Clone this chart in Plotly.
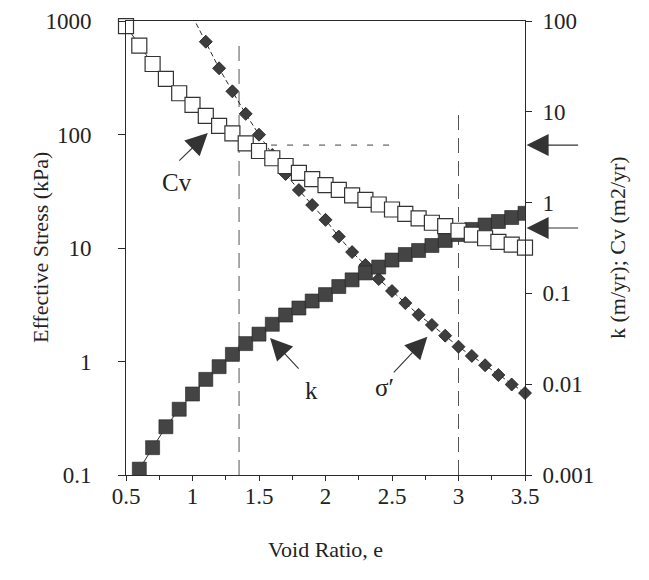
import math
import plotly.graph_objects as go

# ---------------- data ----------------
e_cv = [0.5, 0.6, 0.7, 0.8, 0.9, 1.0, 1.1, 1.2, 1.3, 1.4, 1.5, 1.6, 1.7, 1.8, 1.9,
        2.0, 2.1, 2.2, 2.3, 2.4, 2.5, 2.6, 2.7, 2.8, 2.9, 3.0, 3.1, 3.2, 3.3, 3.4, 3.5]
cv = [88, 53.5, 33.6, 23, 16, 11.9, 9.0, 7.0, 5.8, 4.5, 3.7, 3.08, 2.53, 2.13, 1.81,
      1.56, 1.38, 1.20, 1.07, 0.953, 0.84, 0.75, 0.67, 0.60, 0.55, 0.49, 0.445, 0.405,
      0.37, 0.345, 0.32]

e_k = [0.6, 0.7, 0.8, 0.9, 1.0, 1.1, 1.2, 1.3, 1.4, 1.5, 1.6, 1.7, 1.8, 1.9, 2.0,
       2.1, 2.2, 2.3, 2.4, 2.5, 2.6, 2.7, 2.8, 2.9, 3.0, 3.1, 3.2, 3.3, 3.4, 3.5]
k = [0.00116, 0.0020, 0.0034, 0.0053, 0.0078, 0.0113, 0.0156, 0.0213, 0.028, 0.0356,
     0.0457, 0.0578, 0.069, 0.0824, 0.097, 0.119, 0.141, 0.168, 0.195, 0.233,
     0.268, 0.297, 0.337, 0.383, 0.445, 0.506, 0.566, 0.619, 0.685, 0.762]

e_sigma = [1.0, 1.1, 1.2, 1.3, 1.4, 1.5, 1.6, 1.7, 1.8, 1.9, 2.0, 2.1, 2.2, 2.3, 2.4,
           2.5, 2.6, 2.7, 2.8, 2.9, 3.0, 3.1, 3.2, 3.3, 3.4, 3.5]
sigma = [1100, 657, 383, 240, 152, 99.6, 66, 44.9, 32.4, 23.9, 17.7, 12.6, 9.2, 7.08,
         5.33, 4.18, 3.27, 2.58, 2.10, 1.69, 1.35, 1.12, 0.927, 0.760, 0.627, 0.527]

# reference (guide) lines, in left-axis units (kPa)
vline1_x = [1.35, 1.35]
vline1_y = [0.1, 680]
vline2_x = [3.0, 3.0]
vline2_y = [0.1, 175]
hline_x = [1.35, 2.55]
hline_y = [80.7, 80.7]

# right-side arrow targets (right-axis units)
right_arrow_vals = [4.3, 0.525]

x_ticks = [0.5, 1, 1.5, 2, 2.5, 3, 3.5]
x_ticktext = ["0.5", "1", "1.5", "2", "2.5", "3", "3.5"]
x_minor = [0.75, 1.25, 1.75, 2.25, 2.75, 3.25]
yl_ticks = [0.1, 1, 10, 100, 1000]
yl_ticktext = ["0.1", "1", "10", "100", "1000"]
yr_ticks = [0.001, 0.01, 0.1, 1, 10, 100]
yr_ticktext = ["0.001", "0.01", "0.1", "1", "10", "100"]

FONT = "Liberation Serif, Times New Roman, serif"
INK = "#2a2a2a"

fig = go.Figure()

# guide lines
fig.add_trace(go.Scatter(x=vline1_x, y=vline1_y, mode="lines", yaxis="y",
                         line=dict(color="#555", width=1, dash="15px,8px"),
                         hoverinfo="skip", showlegend=False))
fig.add_trace(go.Scatter(x=vline2_x, y=vline2_y, mode="lines", yaxis="y",
                         line=dict(color="#555", width=1, dash="15px,8px"),
                         hoverinfo="skip", showlegend=False))
fig.add_trace(go.Scatter(x=hline_x, y=hline_y, mode="lines", yaxis="y",
                         line=dict(color="#444", width=1, dash="6px,10px"),
                         hoverinfo="skip", showlegend=False))

# effective stress
fig.add_trace(go.Scatter(x=e_sigma, y=sigma, mode="lines+markers", yaxis="y",
                         line=dict(color=INK, width=1, dash="5px,3px"),
                         marker=dict(symbol="diamond", size=10, color="#3e3e3e",
                                     line=dict(color="#1a1a1a", width=0.8)),
                         cliponaxis=False, showlegend=False))
# permeability
fig.add_trace(go.Scatter(x=e_k, y=k, mode="lines+markers", yaxis="y2",
                         line=dict(color=INK, width=1),
                         marker=dict(symbol="square", size=14, color="#444444",
                                     line=dict(color="#222", width=0.6)),
                         showlegend=False))
# Cv
fig.add_trace(go.Scatter(x=e_cv, y=cv, mode="lines+markers", yaxis="y2",
                         line=dict(color=INK, width=1),
                         marker=dict(symbol="square", size=15, color="white",
                                     line=dict(color="#333", width=1.2)),
                         cliponaxis=False, showlegend=False))

axis_common = dict(showline=True, linecolor=INK, linewidth=1, showgrid=False,
                   zeroline=False, ticks="outside", tickcolor=INK, automargin=False,
                   tickfont=dict(family=FONT, size=23, color="#222"))

fig.update_layout(
    width=649, height=580,
    margin=dict(l=118, r=132, t=13, b=113, autoexpand=False),
    paper_bgcolor="white", plot_bgcolor="white",
    font=dict(family=FONT, size=23, color="#222"),
    xaxis=dict(range=[0.5, 3.5], tickvals=x_ticks, ticktext=x_ticktext, ticklen=5,
               mirror=True, ticklabelstandoff=-5,
               minor=dict(tickvals=x_minor, ticks="outside", ticklen=4, tickcolor=INK),
               **axis_common),
    yaxis=dict(type="log", range=[-1, 3], tickvals=yl_ticks, ticktext=yl_ticktext,
               ticklen=7, ticklabelstandoff=22, **axis_common),
    yaxis2=dict(type="log", range=[-3, 2], tickvals=yr_ticks, ticktext=yr_ticktext,
                overlaying="y", side="right", anchor="x", ticklen=6,
                ticklabelstandoff=6, **axis_common),
)

ann = []
arrow_style = dict(showarrow=True, arrowhead=2, arrowsize=4, arrowwidth=1.1,
                   arrowcolor="#333", axref="pixel", ayref="pixel", text="")
# Cv arrow + label
ann.append(dict(x=1.115, y=math.log10(103), xref="x", yref="y", ax=-30, ay=29, **arrow_style))
ann.append(dict(x=0.885, y=math.log10(37.4), xref="x", yref="y", text="Cv", showarrow=False,
                font=dict(family=FONT, size=25, color="#222")))
# k arrow + label
ann.append(dict(x=1.583, y=math.log10(1.61), xref="x", yref="y", ax=30, ay=32, **arrow_style))
ann.append(dict(x=1.892, y=math.log10(0.56), xref="x", yref="y", text="k", showarrow=False,
                font=dict(family=FONT, size=25, color="#222")))
# sigma' arrow + label
ann.append(dict(x=2.766, y=math.log10(1.65), xref="x", yref="y", ax=-35, ay=37, **arrow_style))
ann.append(dict(x=2.443, y=math.log10(0.585), xref="x", yref="y", text="σ′", showarrow=False,
                font=dict(family=FONT, size=25, color="#222")))
# right side arrows
for v in right_arrow_vals:
    ann.append(dict(x=1.004, y=math.log10(v), xref="paper", yref="y2", ax=53, ay=0,
                    **arrow_style))
# axis titles
ann.append(dict(x=-0.2155, y=0.5, xref="paper", yref="paper", text="Effective Stress (kPa)",
                textangle=-90, showarrow=False, xanchor="center", yanchor="middle",
                font=dict(family=FONT, size=22, color="#222")))
ann.append(dict(x=1.2306, y=0.5, xref="paper", yref="paper", text="k (m/yr); Cv (m2/yr)",
                textangle=-90, showarrow=False, xanchor="center", yanchor="middle",
                font=dict(family=FONT, size=22, color="#222")))
ann.append(dict(x=0.5, y=-0.165, xref="paper", yref="paper", text="Void Ratio, e",
                showarrow=False, xanchor="center", yanchor="middle",
                font=dict(family=FONT, size=22, color="#222")))
fig.update_layout(annotations=ann)

fig.write_html("out.html")
